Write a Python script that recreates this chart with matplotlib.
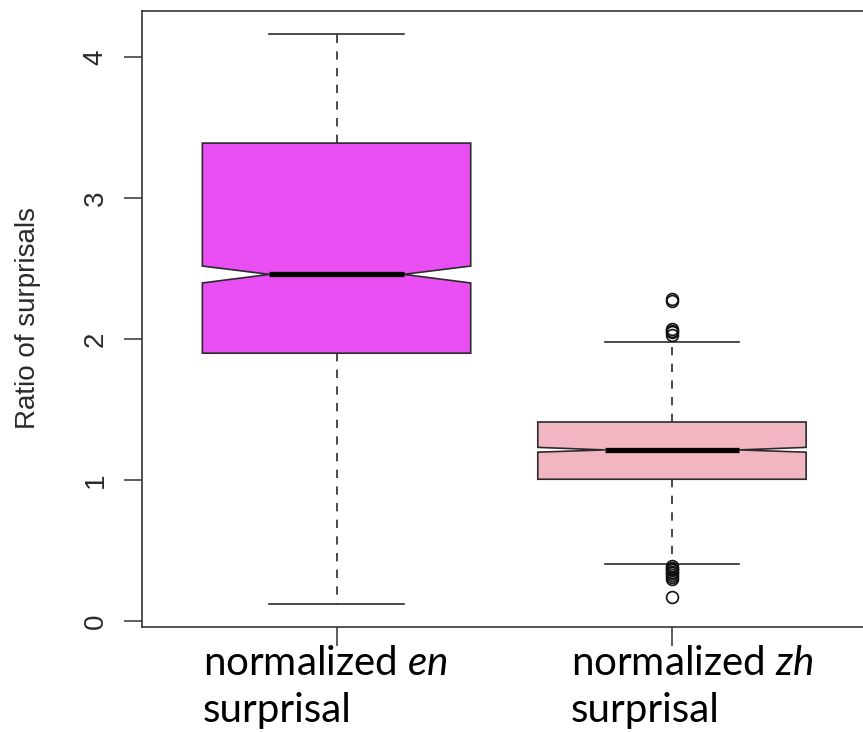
import matplotlib
matplotlib.use("Agg")
import matplotlib.pyplot as plt

# Summary statistics for each group (notched boxplot)
categories = ["en", "zh"]
q1 = [1.90, 1.006]
median = [2.459, 1.214]
q3 = [3.39, 1.412]
notch_lo = [2.398, 1.198]
notch_hi = [2.518, 1.232]
whisker_lo = [0.12, 0.406]
whisker_hi = [4.167, 1.982]
outliers = [
    [],
    [2.27, 2.285, 2.03, 2.05, 2.06, 2.07,
     0.39, 0.38, 0.37, 0.36, 0.35, 0.34, 0.33, 0.31, 0.30, 0.17],
]
yticks = [0, 1, 2, 3, 4]
box_colors = ["#EA4FF3", "#F2B6C2"]

plt.rcParams["mathtext.fontset"] = "custom"
plt.rcParams["mathtext.rm"] = "Lato"
plt.rcParams["mathtext.it"] = "Lato:italic"

W, H = 863, 732
fig = plt.figure(figsize=(W / 100, H / 100), dpi=100)
ax = fig.add_axes([142 / W, (H - 627) / H, (866.5 - 142) / W, (627 - 10.7) / H])

stats = []
for i, name in enumerate(categories):
    stats.append(dict(label=name, q1=q1[i], med=median[i], q3=q3[i],
                      cilo=notch_lo[i], cihi=notch_hi[i],
                      whislo=whisker_lo[i], whishi=whisker_hi[i],
                      fliers=outliers[i]))

edge = "#2b2b2b"
positions = list(range(1, len(categories) + 1))
bp = ax.bxp(stats, positions=positions, widths=0.8, shownotches=True,
            patch_artist=True,
            boxprops=dict(edgecolor=edge, linewidth=1.2),
            whiskerprops=dict(color=edge, linewidth=1.2, linestyle=(0, (5, 5))),
            capprops=dict(color=edge, linewidth=1.2),
            medianprops=dict(color="black", linewidth=3.8, solid_capstyle="butt"),
            flierprops=dict(marker="o", markersize=8.5, markerfacecolor="none",
                            markeredgecolor="#111111", markeredgewidth=1.2,
                            linestyle="none"))
for patch, c in zip(bp["boxes"], box_colors):
    patch.set_facecolor(c)

# R-style axis extents: 4% padding around the data range
all_vals = whisker_lo + whisker_hi + [v for o in outliers for v in o]
lo, hi = min(all_vals), max(all_vals)
pad = 0.04 * (hi - lo)
ax.set_ylim(lo - pad, hi + pad)
ax.set_xlim(0.5 - 0.04 * len(categories), len(categories) + 0.5 + 0.04 * len(categories))

for s in ax.spines.values():
    s.set_color("#333333")
    s.set_linewidth(1.2)

ax.set_yticks(yticks)
ax.set_yticklabels([str(t) for t in yticks], rotation=90, va="center",
                   fontfamily="Liberation Sans", fontsize=20, color="#2a2a2a")
ax.tick_params(axis="y", length=13, width=1.1, color="#333333", pad=11)
ax.set_xticks(positions)
ax.set_xticklabels([""] * len(positions))
ax.tick_params(axis="x", length=14, width=1.1, color="#333333")

fig.text(28 / W, (H - 318) / H, "Ratio of surprisals", rotation=90,
         ha="center", va="center", fontfamily="Liberation Sans", fontsize=20,
         color="#2a2a2a")

# Two-line group labels below the axis
xlabels = [("normalized $en$", "surprisal", -134),
           ("normalized $zh$", "surprisal", -101)]
for pos, (l1, l2, dx) in zip(positions, xlabels):
    for txt, dy in ((l1, -48), (l2, -95)):
        ax.annotate(txt, xy=(pos, 0), xycoords=("data", "axes fraction"),
                    xytext=(dx, dy), textcoords="offset pixels",
                    ha="left", va="baseline", fontfamily="Lato",
                    fontsize=29, color="black", annotation_clip=False)

fig.savefig("out.png", dpi=100)
